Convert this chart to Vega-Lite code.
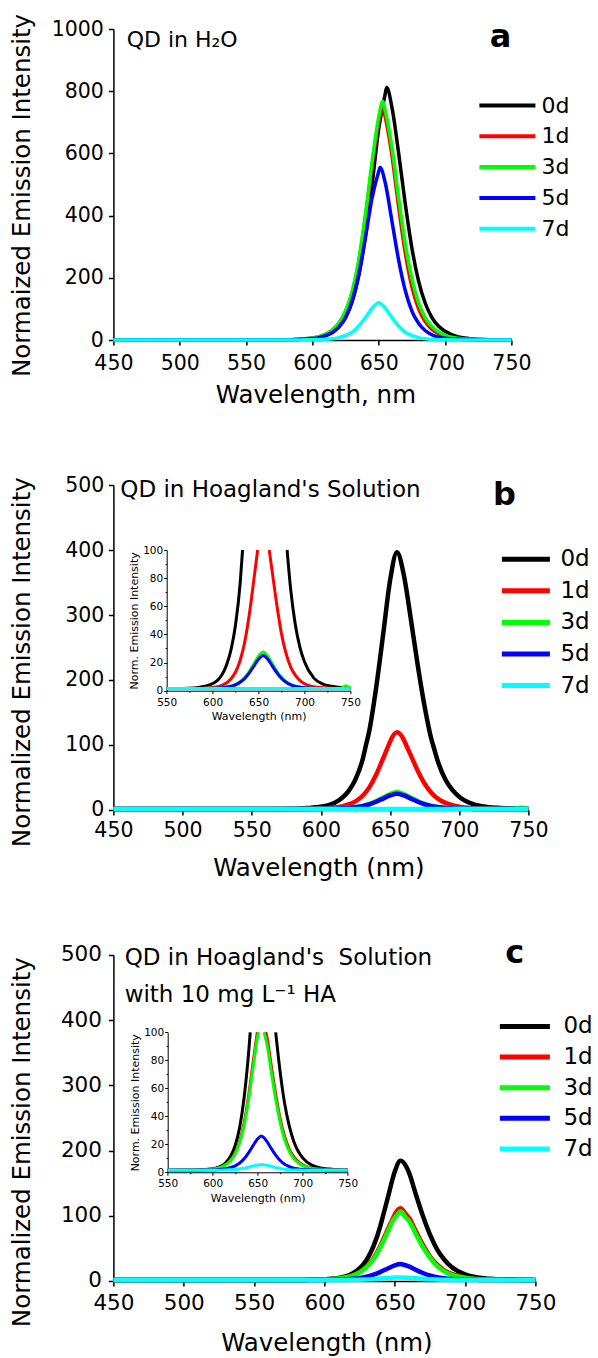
{
"$schema": "https://vega.github.io/schema/vega-lite/v6.json",
"padding": {"left": 8.4, "top": 13, "right": 0, "bottom": 0},
"autosize": {"type": "pad"},
"background": "white",
"bounds": "flush",
"spacing": 145,
"config": {
 "font": "DejaVu Sans",
 "view": {"stroke": null},
 "axis": {"grid": false, "domainColor": "#000", "tickColor": "#000", "labelColor": "#000", "titleColor": "#000", "domainWidth": 1.5, "tickWidth": 1.5, "labelFont": "DejaVu Sans", "titleFont": "DejaVu Sans", "titleFontWeight": "normal", "labelOverlap": false, "labelFlush": false},
 "legend": {"padding": 0, "labelFont": "DejaVu Sans", "labelColor": "#000", "title": null},
 "text": {"font": "DejaVu Sans", "color": "#000"}
},
"resolve": {"scale": {"color": "independent"}, "legend": {"color": "independent"}},
"datasets": {
"a": [
{"s":"0d","x":450,"y":0},{"s":"0d","x":500,"y":0},{"s":"0d","x":550,"y":0},{"s":"0d","x":580,"y":0.5},{"s":"0d","x":590,"y":2},{"s":"0d","x":600,"y":5},{"s":"0d","x":605,"y":8},{"s":"0d","x":610,"y":14},{"s":"0d","x":615,"y":24},{"s":"0d","x":620,"y":42},{"s":"0d","x":625,"y":72},{"s":"0d","x":630,"y":123},{"s":"0d","x":635,"y":208},{"s":"0d","x":640,"y":335},{"s":"0d","x":645,"y":500},{"s":"0d","x":650,"y":679},{"s":"0d","x":655,"y":794},{"s":"0d","x":656,"y":812},{"s":"0d","x":660,"y":747},{"s":"0d","x":665,"y":601},{"s":"0d","x":670,"y":438},{"s":"0d","x":675,"y":296},{"s":"0d","x":680,"y":190},{"s":"0d","x":685,"y":119},{"s":"0d","x":690,"y":73},{"s":"0d","x":695,"y":45},{"s":"0d","x":700,"y":28},{"s":"0d","x":710,"y":10},{"s":"0d","x":720,"y":4.4},{"s":"0d","x":730,"y":1.8},{"s":"0d","x":740,"y":0.5},{"s":"0d","x":750,"y":0},
{"s":"1d","x":450,"y":0},{"s":"1d","x":500,"y":0},{"s":"1d","x":550,"y":0},{"s":"1d","x":580,"y":0.7},{"s":"1d","x":590,"y":2.5},{"s":"1d","x":600,"y":6.3},{"s":"1d","x":605,"y":10.5},{"s":"1d","x":610,"y":18},{"s":"1d","x":615,"y":32},{"s":"1d","x":620,"y":54},{"s":"1d","x":625,"y":91},{"s":"1d","x":630,"y":153},{"s":"1d","x":635,"y":252},{"s":"1d","x":640,"y":395},{"s":"1d","x":645,"y":560},{"s":"1d","x":650,"y":699},{"s":"1d","x":653,"y":748},{"s":"1d","x":655,"y":715},{"s":"1d","x":660,"y":592},{"s":"1d","x":665,"y":428},{"s":"1d","x":670,"y":280},{"s":"1d","x":675,"y":171},{"s":"1d","x":680,"y":101},{"s":"1d","x":685,"y":59},{"s":"1d","x":690,"y":35},{"s":"1d","x":695,"y":20},{"s":"1d","x":700,"y":11.7},{"s":"1d","x":710,"y":4.4},{"s":"1d","x":720,"y":1.7},{"s":"1d","x":730,"y":0.4},{"s":"1d","x":740,"y":0},{"s":"1d","x":750,"y":0},
{"s":"3d","x":450,"y":0},{"s":"3d","x":500,"y":0},{"s":"3d","x":550,"y":0},{"s":"3d","x":580,"y":0.8},{"s":"3d","x":590,"y":2.5},{"s":"3d","x":600,"y":6.5},{"s":"3d","x":605,"y":11},{"s":"3d","x":610,"y":19},{"s":"3d","x":615,"y":33},{"s":"3d","x":620,"y":55},{"s":"3d","x":625,"y":94},{"s":"3d","x":630,"y":157},{"s":"3d","x":635,"y":259},{"s":"3d","x":640,"y":405},{"s":"3d","x":645,"y":574},{"s":"3d","x":650,"y":717},{"s":"3d","x":653,"y":768},{"s":"3d","x":655,"y":736},{"s":"3d","x":660,"y":619},{"s":"3d","x":665,"y":458},{"s":"3d","x":670,"y":310},{"s":"3d","x":675,"y":197},{"s":"3d","x":680,"y":120},{"s":"3d","x":685,"y":72},{"s":"3d","x":690,"y":44},{"s":"3d","x":695,"y":26},{"s":"3d","x":700,"y":15},{"s":"3d","x":710,"y":5.4},{"s":"3d","x":720,"y":2.3},{"s":"3d","x":730,"y":0.8},{"s":"3d","x":740,"y":0},{"s":"3d","x":750,"y":0},
{"s":"5d","x":450,"y":0},{"s":"5d","x":500,"y":0},{"s":"5d","x":550,"y":0},{"s":"5d","x":580,"y":0.4},{"s":"5d","x":590,"y":1.7},{"s":"5d","x":600,"y":4.5},{"s":"5d","x":605,"y":7.7},{"s":"5d","x":610,"y":14},{"s":"5d","x":615,"y":24},{"s":"5d","x":620,"y":42},{"s":"5d","x":625,"y":73},{"s":"5d","x":630,"y":128},{"s":"5d","x":635,"y":213},{"s":"5d","x":640,"y":330},{"s":"5d","x":645,"y":457},{"s":"5d","x":650,"y":542},{"s":"5d","x":651,"y":555},{"s":"5d","x":655,"y":504},{"s":"5d","x":660,"y":381},{"s":"5d","x":665,"y":257},{"s":"5d","x":670,"y":159},{"s":"5d","x":675,"y":93},{"s":"5d","x":680,"y":54},{"s":"5d","x":685,"y":30.5},{"s":"5d","x":690,"y":17},{"s":"5d","x":695,"y":9.4},{"s":"5d","x":700,"y":5.5},{"s":"5d","x":710,"y":2.2},{"s":"5d","x":720,"y":0.6},{"s":"5d","x":730,"y":0},{"s":"5d","x":740,"y":0},{"s":"5d","x":750,"y":0},
{"s":"7d","x":450,"y":0},{"s":"7d","x":500,"y":0},{"s":"7d","x":550,"y":0},{"s":"7d","x":580,"y":0},{"s":"7d","x":590,"y":0.2},{"s":"7d","x":600,"y":0.7},{"s":"7d","x":605,"y":1.2},{"s":"7d","x":610,"y":2.2},{"s":"7d","x":615,"y":3.9},{"s":"7d","x":620,"y":7.8},{"s":"7d","x":625,"y":14},{"s":"7d","x":630,"y":25},{"s":"7d","x":635,"y":45},{"s":"7d","x":640,"y":72},{"s":"7d","x":645,"y":102},{"s":"7d","x":650,"y":120},{"s":"7d","x":655,"y":102},{"s":"7d","x":660,"y":72},{"s":"7d","x":665,"y":45},{"s":"7d","x":670,"y":25},{"s":"7d","x":675,"y":14},{"s":"7d","x":680,"y":7.8},{"s":"7d","x":685,"y":3.9},{"s":"7d","x":690,"y":2.2},{"s":"7d","x":695,"y":1.2},{"s":"7d","x":700,"y":0.7},{"s":"7d","x":710,"y":0.2},{"s":"7d","x":720,"y":0},{"s":"7d","x":730,"y":0},{"s":"7d","x":740,"y":0},{"s":"7d","x":750,"y":0}
],
"b": [
{"s":"0d","x":450,"y":1.5},{"s":"0d","x":500,"y":1.5},{"s":"0d","x":550,"y":1.5},{"s":"0d","x":580,"y":2},{"s":"0d","x":590,"y":3},{"s":"0d","x":600,"y":5},{"s":"0d","x":605,"y":7.2},{"s":"0d","x":610,"y":11.2},{"s":"0d","x":615,"y":18},{"s":"0d","x":620,"y":29},{"s":"0d","x":625,"y":47},{"s":"0d","x":630,"y":76.5},{"s":"0d","x":632.6,"y":100},{"s":"0d","x":635,"y":122},{"s":"0d","x":640,"y":189},{"s":"0d","x":645,"y":270},{"s":"0d","x":650,"y":353},{"s":"0d","x":655,"y":396.5},{"s":"0d","x":660,"y":361,"h":"R"},{"s":"0d","x":665,"y":294,"h":"R"},{"s":"0d","x":670,"y":223,"h":"R"},{"s":"0d","x":675,"y":159,"h":"R"},{"s":"0d","x":680,"y":108,"h":"R"},{"s":"0d","x":681.1,"y":100,"h":"R"},{"s":"0d","x":685,"y":72,"h":"R"},{"s":"0d","x":690,"y":47,"h":"R"},{"s":"0d","x":695,"y":31,"h":"R"},{"s":"0d","x":700,"y":20.5,"h":"R"},{"s":"0d","x":710,"y":9.1,"h":"R"},{"s":"0d","x":720,"y":4.7,"h":"R"},{"s":"0d","x":730,"y":3.1,"h":"R"},{"s":"0d","x":740,"y":2.2,"h":"R"},{"s":"0d","x":750,"y":1.7,"h":"R"},
{"s":"1d","x":450,"y":1.5},{"s":"1d","x":500,"y":1.5},{"s":"1d","x":550,"y":1.5},{"s":"1d","x":580,"y":1.6},{"s":"1d","x":590,"y":1.8},{"s":"1d","x":600,"y":2.3},{"s":"1d","x":605,"y":2.8},{"s":"1d","x":610,"y":3.8},{"s":"1d","x":615,"y":5.5},{"s":"1d","x":620,"y":8.5},{"s":"1d","x":625,"y":13.3},{"s":"1d","x":630,"y":21.6},{"s":"1d","x":635,"y":34.8},{"s":"1d","x":640,"y":54.5},{"s":"1d","x":645,"y":79.4},{"s":"1d","x":649,"y":100},{"s":"1d","x":650,"y":105.3},{"s":"1d","x":655,"y":119.5},{"s":"1d","x":660,"y":107.7,"h":"R"},{"s":"1d","x":661.6,"y":100,"h":"R"},{"s":"1d","x":665,"y":84.1,"h":"R"},{"s":"1d","x":670,"y":60.5,"h":"R"},{"s":"1d","x":675,"y":40.4,"h":"R"},{"s":"1d","x":680,"y":26.3,"h":"R"},{"s":"1d","x":685,"y":16.8,"h":"R"},{"s":"1d","x":690,"y":11,"h":"R"},{"s":"1d","x":695,"y":7.4,"h":"R"},{"s":"1d","x":700,"y":5,"h":"R"},{"s":"1d","x":710,"y":2.8,"h":"R"},{"s":"1d","x":720,"y":2.1,"h":"R"},{"s":"1d","x":730,"y":1.7,"h":"R"},{"s":"1d","x":740,"y":1.6,"h":"R"},{"s":"1d","x":750,"y":1.5,"h":"R"},
{"s":"3d","x":450,"y":1.5},{"s":"3d","x":500,"y":1.5},{"s":"3d","x":550,"y":1.5},{"s":"3d","x":580,"y":1.5},{"s":"3d","x":590,"y":1.6},{"s":"3d","x":600,"y":1.8},{"s":"3d","x":605,"y":1.8},{"s":"3d","x":610,"y":2.1},{"s":"3d","x":615,"y":2.6},{"s":"3d","x":620,"y":3.3},{"s":"3d","x":625,"y":4.5},{"s":"3d","x":630,"y":6.4},{"s":"3d","x":635,"y":9.5},{"s":"3d","x":640,"y":13.8},{"s":"3d","x":645,"y":19.2},{"s":"3d","x":650,"y":24.6},{"s":"3d","x":655,"y":27.5},{"s":"3d","x":660,"y":24.6},{"s":"3d","x":665,"y":19.2},{"s":"3d","x":670,"y":13.8},{"s":"3d","x":675,"y":9.5},{"s":"3d","x":680,"y":6.4},{"s":"3d","x":685,"y":4.5},{"s":"3d","x":690,"y":3.3},{"s":"3d","x":695,"y":2.6},{"s":"3d","x":700,"y":2.1},{"s":"3d","x":710,"y":1.7},{"s":"3d","x":720,"y":1.5},{"s":"3d","x":730,"y":1.5},{"s":"3d","x":740,"y":1.8},{"s":"3d","x":745,"y":3.5},{"s":"3d","x":750,"y":1.8},
{"s":"5d","x":450,"y":1.5},{"s":"5d","x":500,"y":1.5},{"s":"5d","x":550,"y":1.5},{"s":"5d","x":580,"y":1.5},{"s":"5d","x":590,"y":1.6},{"s":"5d","x":600,"y":1.7},{"s":"5d","x":605,"y":1.8},{"s":"5d","x":610,"y":2.1},{"s":"5d","x":615,"y":2.5},{"s":"5d","x":620,"y":3.1},{"s":"5d","x":625,"y":4.2},{"s":"5d","x":630,"y":6},{"s":"5d","x":635,"y":8.7},{"s":"5d","x":640,"y":12.7},{"s":"5d","x":645,"y":17.5},{"s":"5d","x":650,"y":22.4},{"s":"5d","x":655,"y":25},{"s":"5d","x":660,"y":22.4},{"s":"5d","x":665,"y":17.5},{"s":"5d","x":670,"y":12.7},{"s":"5d","x":675,"y":8.7},{"s":"5d","x":680,"y":6},{"s":"5d","x":685,"y":4.2},{"s":"5d","x":690,"y":3.1},{"s":"5d","x":695,"y":2.5},{"s":"5d","x":700,"y":2.1},{"s":"5d","x":710,"y":1.7},{"s":"5d","x":720,"y":1.5},{"s":"5d","x":730,"y":1.5},{"s":"5d","x":740,"y":1.5},{"s":"5d","x":750,"y":1.5},
{"s":"7d","x":450,"y":1.5},{"s":"7d","x":500,"y":1.5},{"s":"7d","x":550,"y":1.5},{"s":"7d","x":600,"y":1.5},{"s":"7d","x":650,"y":1.5},{"s":"7d","x":700,"y":1.5},{"s":"7d","x":750,"y":1.5}
],
"c": [
{"s":"0d","x":450,"y":1.5},{"s":"0d","x":500,"y":1.5},{"s":"0d","x":550,"y":1.5},{"s":"0d","x":580,"y":1.6},{"s":"0d","x":590,"y":1.9},{"s":"0d","x":600,"y":2.6},{"s":"0d","x":605,"y":3.3},{"s":"0d","x":610,"y":4.6},{"s":"0d","x":615,"y":7.1},{"s":"0d","x":620,"y":11.6},{"s":"0d","x":625,"y":19.2},{"s":"0d","x":630,"y":32.2},{"s":"0d","x":635,"y":53.8},{"s":"0d","x":640,"y":86.2},{"s":"0d","x":641.7,"y":100},{"s":"0d","x":645,"y":127},{"s":"0d","x":650,"y":167.7},{"s":"0d","x":654,"y":184.5},{"s":"0d","x":655,"y":184,"h":"R"},{"s":"0d","x":660,"y":167,"h":"R"},{"s":"0d","x":665,"y":133,"h":"R"},{"s":"0d","x":670,"y":100,"h":"R"},{"s":"0d","x":675,"y":71.4,"h":"R"},{"s":"0d","x":680,"y":48.9,"h":"R"},{"s":"0d","x":685,"y":33.3,"h":"R"},{"s":"0d","x":690,"y":22.2,"h":"R"},{"s":"0d","x":695,"y":15,"h":"R"},{"s":"0d","x":700,"y":10.3,"h":"R"},{"s":"0d","x":710,"y":5.1,"h":"R"},{"s":"0d","x":720,"y":3.1,"h":"R"},{"s":"0d","x":730,"y":2.3,"h":"R"},{"s":"0d","x":740,"y":1.8,"h":"R"},{"s":"0d","x":750,"y":1.6,"h":"R"},
{"s":"1d","x":450,"y":1.5},{"s":"1d","x":500,"y":1.5},{"s":"1d","x":550,"y":1.5},{"s":"1d","x":580,"y":1.6},{"s":"1d","x":590,"y":1.8},{"s":"1d","x":600,"y":2.3},{"s":"1d","x":605,"y":2.9},{"s":"1d","x":610,"y":3.9},{"s":"1d","x":615,"y":5.7},{"s":"1d","x":620,"y":8.8},{"s":"1d","x":625,"y":13.7},{"s":"1d","x":630,"y":22.2},{"s":"1d","x":635,"y":35.4},{"s":"1d","x":640,"y":55},{"s":"1d","x":645,"y":79},{"s":"1d","x":649.6,"y":100},{"s":"1d","x":650,"y":101.8},{"s":"1d","x":654,"y":111.5},{"s":"1d","x":655,"y":110.6,"h":"R"},{"s":"1d","x":658.9,"y":100,"h":"R"},{"s":"1d","x":660,"y":97.4,"h":"R"},{"s":"1d","x":665,"y":76.5,"h":"R"},{"s":"1d","x":670,"y":55.7,"h":"R"},{"s":"1d","x":675,"y":38,"h":"R"},{"s":"1d","x":680,"y":25.4,"h":"R"},{"s":"1d","x":685,"y":16.8,"h":"R"},{"s":"1d","x":690,"y":11.2,"h":"R"},{"s":"1d","x":695,"y":7.7,"h":"R"},{"s":"1d","x":700,"y":5.4,"h":"R"},{"s":"1d","x":710,"y":3,"h":"R"},{"s":"1d","x":720,"y":2.1,"h":"R"},{"s":"1d","x":730,"y":1.8,"h":"R"},{"s":"1d","x":740,"y":1.6,"h":"R"},{"s":"1d","x":750,"y":1.5,"h":"R"},
{"s":"3d","x":450,"y":1.5},{"s":"3d","x":500,"y":1.5},{"s":"3d","x":550,"y":1.5},{"s":"3d","x":580,"y":1.6},{"s":"3d","x":590,"y":1.8},{"s":"3d","x":600,"y":2.3},{"s":"3d","x":605,"y":2.8},{"s":"3d","x":610,"y":3.8},{"s":"3d","x":615,"y":5.5},{"s":"3d","x":620,"y":8.4},{"s":"3d","x":625,"y":13.2},{"s":"3d","x":630,"y":21.2},{"s":"3d","x":635,"y":33.8},{"s":"3d","x":640,"y":52.5},{"s":"3d","x":645,"y":75.4},{"s":"3d","x":650,"y":97.3},{"s":"3d","x":651.2,"y":100},{"s":"3d","x":654,"y":106.5},{"s":"3d","x":655,"y":105.8,"h":"R"},{"s":"3d","x":656.9,"y":100,"h":"R"},{"s":"3d","x":660,"y":92.5,"h":"R"},{"s":"3d","x":665,"y":72.2,"h":"R"},{"s":"3d","x":670,"y":52.1,"h":"R"},{"s":"3d","x":675,"y":35.7,"h":"R"},{"s":"3d","x":680,"y":23.2,"h":"R"},{"s":"3d","x":685,"y":15.2,"h":"R"},{"s":"3d","x":690,"y":9.9,"h":"R"},{"s":"3d","x":695,"y":6.8,"h":"R"},{"s":"3d","x":700,"y":4.8,"h":"R"},{"s":"3d","x":710,"y":2.7,"h":"R"},{"s":"3d","x":720,"y":2.1,"h":"R"},{"s":"3d","x":730,"y":1.7,"h":"R"},{"s":"3d","x":740,"y":1.6,"h":"R"},{"s":"3d","x":750,"y":1.5,"h":"R"},
{"s":"5d","x":450,"y":1.5},{"s":"5d","x":500,"y":1.5},{"s":"5d","x":550,"y":1.5},{"s":"5d","x":580,"y":1.5},{"s":"5d","x":590,"y":1.6},{"s":"5d","x":600,"y":1.7},{"s":"5d","x":605,"y":1.9},{"s":"5d","x":610,"y":2.2},{"s":"5d","x":615,"y":2.7},{"s":"5d","x":620,"y":3.4},{"s":"5d","x":625,"y":4.6},{"s":"5d","x":630,"y":6.6},{"s":"5d","x":635,"y":9.6},{"s":"5d","x":640,"y":14},{"s":"5d","x":645,"y":19.2},{"s":"5d","x":650,"y":23.9},{"s":"5d","x":654,"y":26},{"s":"5d","x":655,"y":25.7},{"s":"5d","x":660,"y":22.3},{"s":"5d","x":665,"y":17.1},{"s":"5d","x":670,"y":12.3},{"s":"5d","x":675,"y":8.4},{"s":"5d","x":680,"y":5.7},{"s":"5d","x":685,"y":4.1},{"s":"5d","x":690,"y":3},{"s":"5d","x":695,"y":2.4},{"s":"5d","x":700,"y":2},{"s":"5d","x":710,"y":1.7},{"s":"5d","x":720,"y":1.6},{"s":"5d","x":730,"y":1.5},{"s":"5d","x":740,"y":1.5},{"s":"5d","x":750,"y":1.5},
{"s":"7d","x":450,"y":1.5},{"s":"7d","x":500,"y":1.5},{"s":"7d","x":550,"y":1.5},{"s":"7d","x":600,"y":1.5},{"s":"7d","x":610,"y":1.5},{"s":"7d","x":615,"y":1.7},{"s":"7d","x":620,"y":1.8},{"s":"7d","x":625,"y":2},{"s":"7d","x":630,"y":2.4},{"s":"7d","x":635,"y":2.9},{"s":"7d","x":640,"y":3.7},{"s":"7d","x":645,"y":4.5},{"s":"7d","x":650,"y":5.2},{"s":"7d","x":655,"y":5.5},{"s":"7d","x":660,"y":5},{"s":"7d","x":665,"y":4.2},{"s":"7d","x":670,"y":3.4},{"s":"7d","x":675,"y":2.7},{"s":"7d","x":680,"y":2.2},{"s":"7d","x":685,"y":1.9},{"s":"7d","x":690,"y":1.7},{"s":"7d","x":695,"y":1.6},{"s":"7d","x":700,"y":1.5},{"s":"7d","x":750,"y":1.5}
]
},
"vconcat": [
{
 "width": 398, "height": 311,
 "layer": [
  {"data": {"name": "a"},
   "mark": {"type": "line", "interpolate": "monotone", "strokeWidth": 3.5},
   "encoding": {
    "x": {"field": "x", "type": "quantitative", "scale": {"domain": [450, 750], "nice": false, "zero": false},
     "axis": {"orient": "bottom", "values": [450,475,500,525,550,575,600,625,650,675,700,725,750], "format": "d", "labelExpr": "datum.value % 50 === 0 ? datum.label : ''", "tickSize": {"condition": {"test": "datum.value % 50 !== 0", "value": 3}, "value": 5}, "labelFontSize": 20.5, "labelPadding": 8, "title": "Wavelength, nm", "titleFontSize": 24.5, "titleX": 202, "titleY": 62, "titleBaseline": "alphabetic"}},
    "y": {"field": "y", "type": "quantitative", "scale": {"domain": [0, 1000], "nice": false},
     "axis": {"orient": "left", "values": [0,100,200,300,400,500,600,700,800,900,1000], "format": "d", "labelExpr": "datum.value % 200 === 0 ? datum.label : ''", "tickSize": {"condition": {"test": "datum.value % 200 !== 0", "value": 3}, "value": 5}, "labelFontSize": 20.5, "labelPadding": 5, "title": "Normaized Emission Intensity", "titleFontSize": 24.5, "titleX": -84, "titleY": 166, "titleBaseline": "alphabetic"}},
    "color": {"field": "s", "type": "nominal", "scale": {"domain": ["0d","1d","3d","5d","7d"], "range": ["#000000","#ff0000","#00ff00","#0000ff","#00ffff"]},
     "legend": {"orient": "none", "legendX": 383, "legendY": 65.5, "title": null, "symbolType": "M-7,0H7", "symbolSize": 64, "symbolStrokeWidth": 4, "labelFontSize": 22, "labelOffset": 23, "rowPadding": 8.8}}
   }},
  {"data": {"values": [{}]}, "mark": {"type": "text", "align": "left", "baseline": "alphabetic", "fontSize": 22, "text": "QD in H₂O"},
   "encoding": {"x": {"datum": 460, "type": "quantitative"}, "y": {"datum": 943, "type": "quantitative"}}},
  {"data": {"values": [{}]}, "mark": {"type": "text", "align": "right", "baseline": "alphabetic", "fontSize": 32, "fontWeight": "bold", "text": "a"},
   "encoding": {"x": {"datum": 750, "type": "quantitative"}, "y": {"datum": 942, "type": "quantitative"}}}
 ]
},
{
 "width": 415, "height": 325,
 "resolve": {"scale": {"x": "independent", "y": "independent"}, "axis": {"x": "independent", "y": "independent"}},
 "layer": [
  {"layer": [
   {"data": {"name": "b"},
    "mark": {"type": "line", "interpolate": "monotone", "strokeWidth": 4.5},
    "encoding": {
     "x": {"field": "x", "type": "quantitative", "scale": {"domain": [450, 750], "nice": false, "zero": false},
      "axis": {"orient": "bottom", "values": [450,475,500,525,550,575,600,625,650,675,700,725,750], "format": "d", "labelExpr": "datum.value % 50 === 0 ? datum.label : ''", "tickSize": {"condition": {"test": "datum.value % 50 !== 0", "value": 3}, "value": 5}, "labelFontSize": 20.5, "labelPadding": 6, "title": "Wavelength (nm)", "titleFontSize": 24.5, "titleX": 205, "titleY": 66, "titleBaseline": "alphabetic"}},
     "y": {"field": "y", "type": "quantitative", "scale": {"domain": [0, 500], "nice": false},
      "axis": {"orient": "left", "values": [0,50,100,150,200,250,300,350,400,450,500], "format": "d", "labelExpr": "datum.value % 100 === 0 ? datum.label : ''", "tickSize": {"condition": {"test": "datum.value % 100 !== 0", "value": 3}, "value": 5}, "labelFontSize": 20.5, "labelPadding": 4.6, "title": "Normalized Emission Intensity", "titleFontSize": 24.5, "titleX": -84, "titleY": 176.7, "titleBaseline": "alphabetic"}},
     "color": {"field": "s", "type": "nominal", "scale": {"domain": ["0d","1d","3d","5d","7d"], "range": ["#000000","#ff0000","#00ff00","#0000ff","#00ffff"]},
      "legend": {"orient": "none", "legendX": 401, "legendY": 62.7, "title": null, "symbolType": "M-6,0H6", "symbolSize": 64, "symbolStrokeWidth": 5, "labelFontSize": 23, "labelOffset": 23, "rowPadding": 7.6}}
    }},
   {"data": {"values": [{}]}, "mark": {"type": "text", "align": "left", "baseline": "alphabetic", "fontSize": 23, "text": "QD in Hoagland's Solution"},
    "encoding": {"x": {"datum": 455, "type": "quantitative"}, "y": {"datum": 481.5, "type": "quantitative"}}},
   {"data": {"values": [{}]}, "mark": {"type": "text", "align": "right", "baseline": "alphabetic", "fontSize": 32, "fontWeight": "bold", "text": "b"},
    "encoding": {"x": {"datum": 741, "type": "quantitative"}, "y": {"datum": 469, "type": "quantitative"}}}
  ]},
  {"data": {"name": "b"},
   "transform": [{"filter": "datum.x >= 550 && datum.y <= 100"}],
   "mark": {"type": "line", "interpolate": "monotone", "strokeWidth": 3},
   "encoding": {
    "x": {"field": "x", "type": "quantitative", "scale": {"domain": [550, 750], "range": [53.3, 237], "nice": false, "zero": false},
     "axis": {"orient": "bottom", "offset": -119.3, "values": [550,575,600,625,650,675,700,725,750], "format": "d", "labelExpr": "datum.value % 50 === 0 ? datum.label : ''", "tickSize": {"condition": {"test": "datum.value % 50 !== 0", "value": 1.5}, "value": 3}, "tickWidth": 1, "domainWidth": 1, "labelFontSize": 10.5, "labelPadding": 3.5, "title": "Wavelength (nm)", "titleFontSize": 11, "titleX": 145.2, "titleY": 29, "titleBaseline": "alphabetic"}},
    "y": {"field": "y", "type": "quantitative", "scale": {"domain": [0, 100], "range": [205.7, 65], "nice": false},
     "axis": {"orient": "left", "offset": -53.3, "values": [0,10,20,30,40,50,60,70,80,90,100], "format": "d", "labelExpr": "datum.value % 20 === 0 ? datum.label : ''", "tickSize": {"condition": {"test": "datum.value % 20 !== 0", "value": 1.5}, "value": 3}, "tickWidth": 1, "domainWidth": 1, "labelFontSize": 10.5, "labelPadding": 1, "title": "Norm. Emission Intensity", "titleFontSize": 11, "titleX": -29.3, "titleY": 135.35, "titleBaseline": "alphabetic"}},
    "color": {"field": "s", "type": "nominal", "legend": null},
    "detail": {"field": "h", "type": "nominal"}
   }}
 ]
},
{
 "width": 422, "height": 326,
 "resolve": {"scale": {"x": "independent", "y": "independent"}, "axis": {"x": "independent", "y": "independent"}},
 "layer": [
  {"layer": [
   {"data": {"name": "c"},
    "mark": {"type": "line", "interpolate": "monotone", "strokeWidth": 4.5},
    "encoding": {
     "x": {"field": "x", "type": "quantitative", "scale": {"domain": [450, 750], "nice": false, "zero": false},
      "axis": {"orient": "bottom", "values": [450,475,500,525,550,575,600,625,650,675,700,725,750], "format": "d", "labelExpr": "datum.value % 50 === 0 ? datum.label : ''", "tickSize": {"condition": {"test": "datum.value % 50 !== 0", "value": 3}, "value": 5}, "labelFontSize": 21.5, "labelPadding": 6.5, "title": "Wavelength (nm)", "titleFontSize": 24.5, "titleX": 213, "titleY": 70, "titleBaseline": "alphabetic"}},
     "y": {"field": "y", "type": "quantitative", "scale": {"domain": [0, 500], "nice": false},
      "axis": {"orient": "left", "values": [0,50,100,150,200,250,300,350,400,450,500], "format": "d", "labelExpr": "datum.value % 100 === 0 ? datum.label : ''", "tickSize": {"condition": {"test": "datum.value % 100 !== 0", "value": 3}, "value": 5}, "labelFontSize": 21.5, "labelPadding": 7, "title": "Normalized Emission Intensity", "titleFontSize": 24.5, "titleX": -84, "titleY": 186.7, "titleBaseline": "alphabetic"}},
     "color": {"field": "s", "type": "nominal", "scale": {"domain": ["0d","1d","3d","5d","7d"], "range": ["#000000","#ff0000","#00ff00","#0000ff","#00ffff"]},
      "legend": {"orient": "none", "legendX": 400, "legendY": 60, "title": null, "symbolType": "M-6.25,0H6.25", "symbolSize": 64, "symbolStrokeWidth": 5, "labelFontSize": 23, "labelOffset": 27, "rowPadding": 6.6}}
    }},
   {"data": {"values": [{}]}, "mark": {"type": "text", "align": "left", "baseline": "alphabetic", "fontSize": 23, "text": "QD in Hoagland's\u00a0 Solution"},
    "encoding": {"x": {"datum": 458, "type": "quantitative"}, "y": {"datum": 484.7, "type": "quantitative"}}},
   {"data": {"values": [{}]}, "mark": {"type": "text", "align": "left", "baseline": "alphabetic", "fontSize": 23, "text": "with 10 mg L⁻¹ HA"},
    "encoding": {"x": {"datum": 458, "type": "quantitative"}, "y": {"datum": 428.4, "type": "quantitative"}}},
   {"data": {"values": [{}]}, "mark": {"type": "text", "align": "right", "baseline": "alphabetic", "fontSize": 32, "fontWeight": "bold", "text": "c"},
    "encoding": {"x": {"datum": 742, "type": "quantitative"}, "y": {"datum": 487.7, "type": "quantitative"}}}
  ]},
  {"data": {"name": "c"},
   "transform": [{"filter": "datum.x >= 550 && datum.y <= 100"}],
   "mark": {"type": "line", "interpolate": "monotone", "strokeWidth": 3},
   "encoding": {
    "x": {"field": "x", "type": "quantitative", "scale": {"domain": [550, 750], "range": [54.3, 234.3], "nice": false, "zero": false},
     "axis": {"orient": "bottom", "offset": -108.7, "values": [550,575,600,625,650,675,700,725,750], "format": "d", "labelExpr": "datum.value % 50 === 0 ? datum.label : ''", "tickSize": {"condition": {"test": "datum.value % 50 !== 0", "value": 1.5}, "value": 3}, "tickWidth": 1, "domainWidth": 1, "labelFontSize": 10.5, "labelPadding": 3.5, "title": "Wavelength (nm)", "titleFontSize": 11, "titleX": 144.3, "titleY": 29, "titleBaseline": "alphabetic"}},
    "y": {"field": "y", "type": "quantitative", "scale": {"domain": [0, 100], "range": [217.3, 77.3], "nice": false},
     "axis": {"orient": "left", "offset": -54.3, "values": [0,10,20,30,40,50,60,70,80,90,100], "format": "d", "labelExpr": "datum.value % 20 === 0 ? datum.label : ''", "tickSize": {"condition": {"test": "datum.value % 20 !== 0", "value": 1.5}, "value": 3}, "tickWidth": 1, "domainWidth": 1, "labelFontSize": 10.5, "labelPadding": 1, "title": "Norm. Emission Intensity", "titleFontSize": 11, "titleX": -29.3, "titleY": 147.3, "titleBaseline": "alphabetic"}},
    "color": {"field": "s", "type": "nominal", "legend": null},
    "detail": {"field": "h", "type": "nominal"}
   }}
 ]
}
]
}
